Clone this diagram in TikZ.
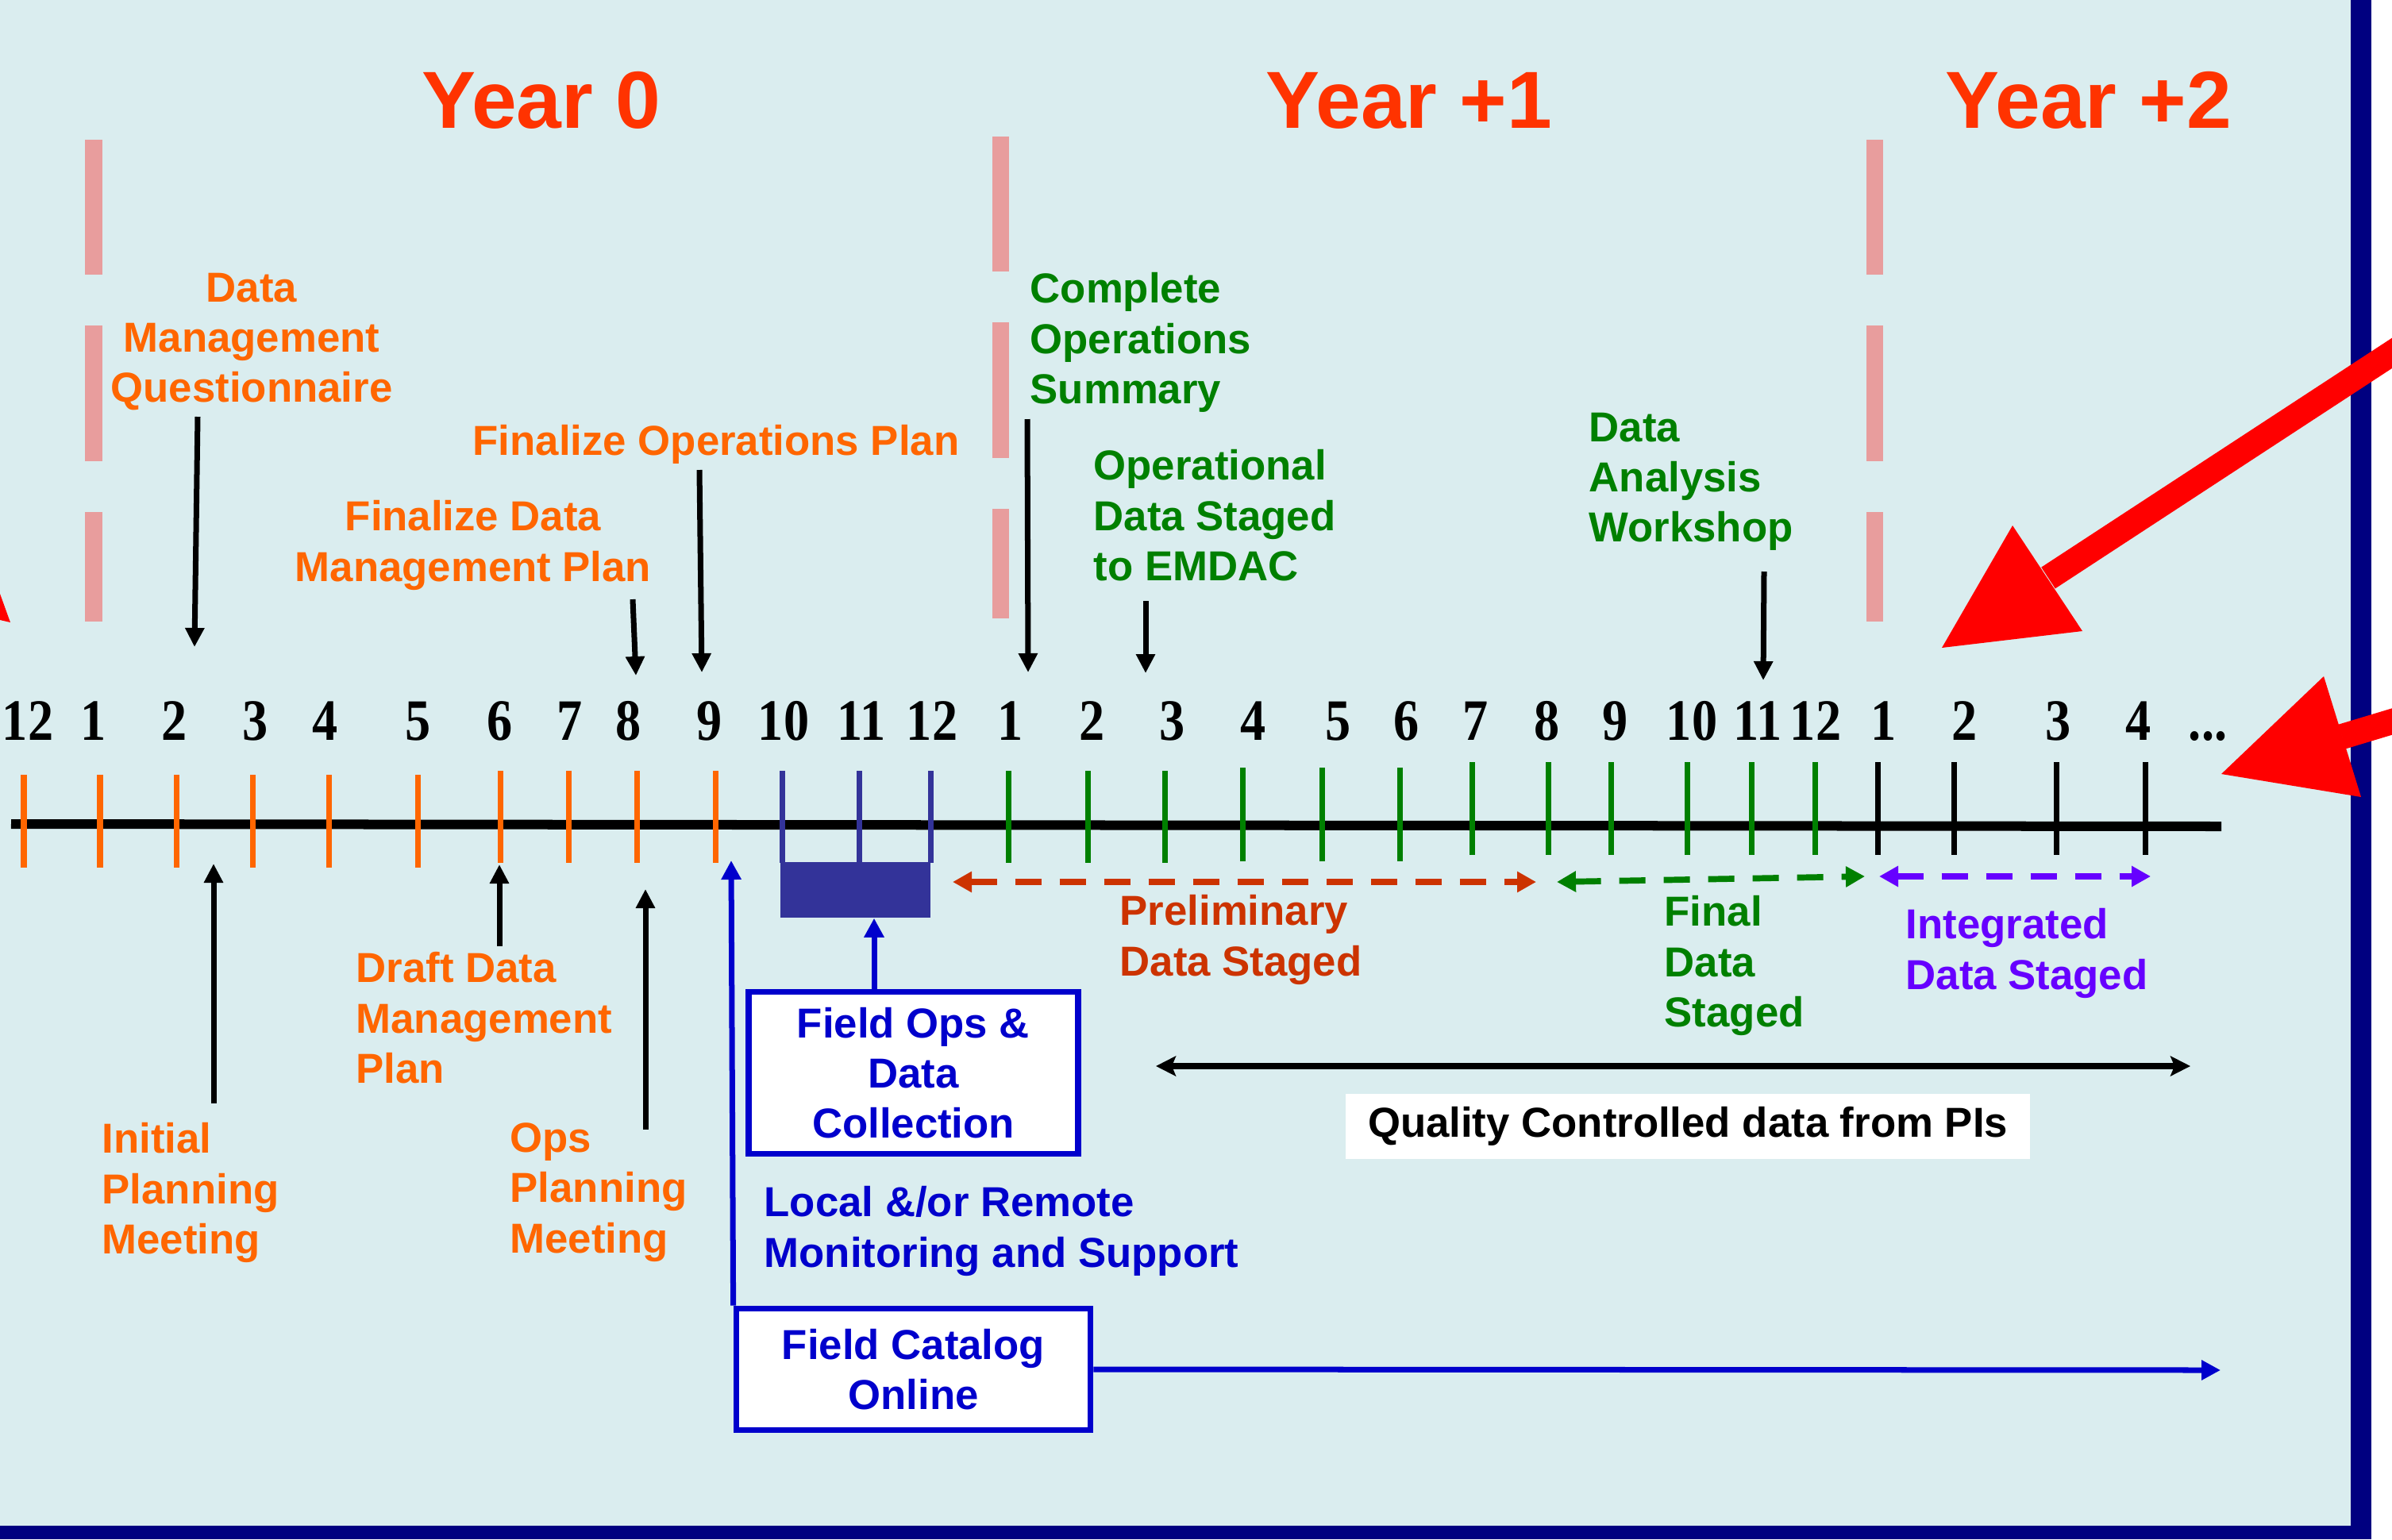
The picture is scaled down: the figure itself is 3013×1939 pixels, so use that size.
\documentclass[tikz,border=0pt]{standalone}
\usepackage{fontspec}
\setmainfont{Liberation Sans}
\newfontfamily\numfont{Liberation Serif}[FakeStretch=0.87]
\usetikzlibrary{arrows.meta}
\definecolor{bgc}{RGB}{218,237,239}
\definecolor{navyb}{RGB}{0,0,128}
\definecolor{yearc}{RGB}{255,51,0}
\definecolor{orangec}{RGB}{255,102,0}
\definecolor{greenc}{RGB}{0,128,0}
\definecolor{bluec}{RGB}{0,0,204}
\definecolor{boxc}{RGB}{51,51,153}
\definecolor{purplec}{RGB}{102,0,255}
\definecolor{prelc}{RGB}{204,51,0}
\definecolor{pinkc}{RGB}{232,157,157}
\definecolor{redc}{RGB}{255,0,0}
\tikzset{
  yearlbl/.style={font=\fontsize{29}{29}\selectfont\bfseries, text=yearc, anchor=base, inner sep=0pt},
  lbl/.style={font=\fontsize{15}{18}\selectfont\bfseries, inner sep=0pt},
  lblL/.style={lbl, align=left, anchor=north west},
  lblC/.style={lbl, align=center, anchor=north},
  mnum/.style={font=\numfont\bfseries\fontsize{21}{21}\selectfont, anchor=base, inner sep=0pt},
  tickmark/.style={line width=0.07cm},
  pinkdash/.style={pinkc, line width=0.21cm},
  darr/.style={line width=0.07cm, -{Triangle[length=0.24cm,width=0.23cm]}},
  barr/.style={bluec, line width=0.07cm, -{Triangle[length=0.24cm,width=0.24cm]}},
  qarr/.style={line width=0.075cm, {Stealth[length=0.25cm,width=0.25cm,inset=0.05cm]}-{Stealth[length=0.25cm,width=0.25cm,inset=0.05cm]}},
  dsharr/.style={line width=0.077cm, dash pattern=on 0.33cm off 0.23cm, {Triangle[length=0.24cm,width=0.25cm]}-{Triangle[length=0.24cm,width=0.25cm]}},
  bluebox/.style={draw=bluec, line width=0.075cm, fill=white, text=bluec, lbl, align=center},
  redline/.style={redc, line width=0.32cm},
}
\begin{document}
\begin{tikzpicture}[x=0.01cm,y=-0.01cm]
\useasboundingbox (0,0) rectangle (3013,1939);
% background and frame
\fill[white] (0,0) rectangle (3013,1939);
\fill[bgc] (0,0) rectangle (2961,1922);
\fill[navyb] (2961,0) rectangle (2987,1939);
\fill[navyb] (0,1922) rectangle (2987,1939);

% year titles
\node[yearlbl] (y0) at (682,161.5) {Year 0};
\node[yearlbl] (y1) at (1775,161.5) {Year +1};
\node[yearlbl] (y2) at (2631,161.5) {Year +2};

% pink year separators
\foreach \x/\o in {118/0,1260/-4,2361/0}{
  \draw[pinkdash] (\x,176+\o) -- (\x,346+\o);
  \draw[pinkdash] (\x,410+\o) -- (\x,581+\o);
  \draw[pinkdash] (\x,645+\o) -- (\x,783+\o);
}

% time axis
\draw[line width=0.12cm] (14,1038) -- (2798,1041);
\foreach \x in {30,126,222,318,414,526} \draw[tickmark,orangec] (\x,976) -- (\x,1093);
\foreach \x in {630,716,802,901} \draw[tickmark,orangec] (\x,971) -- (\x,1087);
\foreach \x in {985,1082,1172} \draw[tickmark,boxc] (\x,971) -- (\x,1087);
\foreach \x in {1270,1370,1467} \draw[tickmark,greenc] (\x,971) -- (\x,1087);
\foreach \x in {1565,1665,1763} \draw[tickmark,greenc] (\x,967) -- (\x,1085);
\foreach \x in {1854,1950,2029,2125,2206,2286} \draw[tickmark,greenc] (\x,960) -- (\x,1077);
\foreach \x in {2365,2461,2590,2702} \draw[tickmark,black] (\x,960) -- (\x,1077);

% month numbers
\foreach \x/\t [count=\i] in {35/12,118/1,220/2,322/3,410/4,527/5,630/6,718/7,792/8,894/9,987/10,1085/11,1174/12}
  \node[mnum] (ma\i) at (\x,932) {\t};
\foreach \x/\t [count=\i] in {1273/1,1376/2,1477/3,1579/4,1686/5,1772/6,1859/7,1949/8,2035/9,2131/10,2214/11,2287/12}
  \node[mnum] (mb\i) at (\x,932) {\t};
\foreach \x/\t [count=\i] in {2373/1,2475/2,2593/3,2694/4}
  \node[mnum] (mc\i) at (\x,932) {\t};
\node[mnum] (mdots) at (2781,932) {...};

% dark field box
\node[fill=boxc, minimum width=1.89cm, minimum height=0.70cm, inner sep=0pt] (dbox) at (1077.5,1121) {};

% upper labels
\node[lblC, text=orangec] (dmq) at (317,343) {Data\\Management\\Questionnaire};
\node[lblC, text=orangec] (fop) at (902,535) {Finalize Operations Plan};
\node[lblC, text=orangec] (fdm) at (596,630) {Finalize Data\\Management Plan};
\node[lblL, text=greenc] (cos) at (1297,343) {Complete\\Operations\\Summary};
\node[lblL, text=greenc] (ods) at (1377,566) {Operational\\Data Staged\\to EMDAC};
\node[lblL, text=greenc] (daw) at (2001,519) {Data\\Analysis\\Workshop};

% lower labels
\node[lblL, text=orangec] (ipm) at (128,1414) {Initial\\Planning\\Meeting};
\node[lblL, text=orangec] (ddm) at (448,1199) {Draft Data\\Management\\Plan};
\node[lblL, text=orangec] (opm) at (642,1414) {Ops\\Planning\\Meeting};
\node[lblL, text=prelc] (pds) at (1410,1127) {Preliminary\\Data Staged};
\node[lblL, text=greenc] (fds) at (2096,1128) {Final\\Data\\Staged};
\node[lblL, text=purplec] (ids) at (2400,1144) {Integrated\\Data Staged};
\node[lblL, text=bluec] (lrm) at (962,1494) {Local \&/or Remote\\Monitoring and Support};

% boxes
\node[bluebox, minimum width=4.15cm, minimum height=2.04cm] (fops) at (1150.5,1351.5) {Field Ops \&\\Data\\Collection};
\node[bluebox, minimum width=4.46cm, minimum height=1.53cm] (fcat) at (1150.5,1725) {Field Catalog\\Online};
\node[lbl, fill=white, minimum width=8.62cm, minimum height=0.82cm] (qcd) at (2126,1419) {Quality Controlled data from PIs};

% black arrows from labels to the axis
\coordinate (a1s) at (249,525);  \coordinate (a1e) at (245,815);
\coordinate (a2s) at (797,755);  \coordinate (a2e) at (801,851);
\coordinate (a3s) at (881,592);  \coordinate (a3e) at (884,847);
\coordinate (a4s) at (1294,528); \coordinate (a4e) at (1295,847);
\coordinate (a5s) at (1443,757); \coordinate (a5e) at (1443,848);
\coordinate (a6s) at (2222,720); \coordinate (a6e) at (2221,857);
\foreach \k in {1,...,6} \draw[darr] (a\k s) -- (a\k e);
\coordinate (u1s) at (269,1390); \coordinate (u1e) at (269,1088);
\coordinate (u2s) at (629,1192); \coordinate (u2e) at (629,1089);
\coordinate (u3s) at (813,1423); \coordinate (u3e) at (813,1120);
\foreach \k in {1,2,3} \draw[darr] (u\k s) -- (u\k e);

% blue connectors
\coordinate (fcatT) at (921,1084);
\draw[barr] (fcat.north west) -- (fcatT);
\coordinate (fopsA) at (1101,1248);
\draw[barr] (fopsA) -- (fopsA |- dbox.south);
\coordinate (fcatR) at (2797,1726);
\draw[barr] (fcat.east) -- (fcatR);

% quality controlled span
\coordinate (qL) at (1456,1343); \coordinate (qR) at (2759,1343);
\draw[qarr] (qL) -- (qR);

% staged data spans
\coordinate (pL) at (1200,1111); \coordinate (pR) at (1935,1111);
\draw[dsharr, prelc] (pL) -- (pR);
\coordinate (fL) at (1961,1111); \coordinate (fR) at (2349,1104);
\draw[dsharr, greenc] (fL) -- (fR);
\coordinate (iL) at (2367,1104); \coordinate (iR) at (2709,1104);
\draw[dsharr, purplec] (iL) -- (iR);

% red pointer arrows
\begin{scope}
\clip (0,0) rectangle (3013,1939);
\draw[redline] (3080,401) -- (2580,728);
\fill[redc] (2446,816) -- (2535,662) -- (2623,795) -- cycle;
\draw[redline] (3080,888.8) -- (2950,928);
\fill[redc] (2798,975) -- (2927,852) -- (2974,1004) -- cycle;
\fill[redc] (0,748) -- (13,784) -- (0,781) -- cycle;
\end{scope}
\end{tikzpicture}
\end{document}
